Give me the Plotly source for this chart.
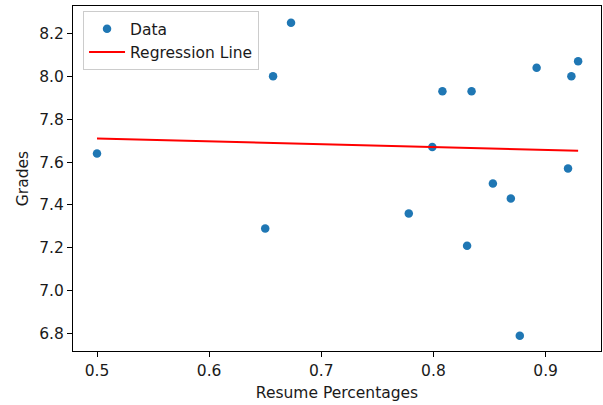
import plotly.graph_objects as go

resume_pct = [0.500, 0.657, 0.673, 0.650, 0.808, 0.834, 0.892, 0.923, 0.929,
              0.799, 0.920, 0.853, 0.869, 0.778, 0.830, 0.877]
grades = [7.64, 8.00, 8.25, 7.29, 7.93, 7.93, 8.04, 8.00, 8.07,
          7.67, 7.57, 7.50, 7.43, 7.36, 7.21, 6.79]

reg_x = [0.500, 0.929]
reg_y = [7.71, 7.653]

x_ticks = [0.5, 0.6, 0.7, 0.8, 0.9]
y_ticks = [6.8, 7.0, 7.2, 7.4, 7.6, 7.8, 8.0, 8.2]

font = dict(family="DejaVu Sans", size=15.5, color="#1a1a1a")

fig = go.Figure()
fig.add_trace(go.Scatter(x=resume_pct, y=grades, mode="markers", name="Data",
                         marker=dict(color="#1f77b4", size=8.5, line=dict(width=0))))
fig.add_trace(go.Scatter(x=reg_x, y=reg_y, mode="lines", name="Regression Line",
                         line=dict(color="red", width=2)))

axis_common = dict(showgrid=False, zeroline=False, showline=True, mirror=True,
                   linecolor="black", linewidth=1, ticks="outside", ticklen=5,
                   tickwidth=1, tickcolor="black", tickfont=font)

fig.update_layout(
    width=603, height=405,
    margin=dict(l=73, r=2, t=6, b=54),
    paper_bgcolor="white", plot_bgcolor="white",
    font=font,
    xaxis=dict(range=[0.4786, 0.9494], tickvals=x_ticks, tickformat=".1f",
               title=dict(text="Resume Percentages", font=font, standoff=8),
               **axis_common),
    yaxis=dict(range=[6.719, 8.328], tickvals=y_ticks, tickformat=".1f",
               title=dict(text="Grades", font=font, standoff=6),
               **axis_common),
    legend=dict(x=0.019, y=0.985, xanchor="left", yanchor="top",
                bgcolor="rgba(255,255,255,0.8)", bordercolor="#cccccc",
                borderwidth=1, font=font, itemwidth=36,
                tracegroupgap=0),
    showlegend=True,
)

fig.write_html("out.html")
